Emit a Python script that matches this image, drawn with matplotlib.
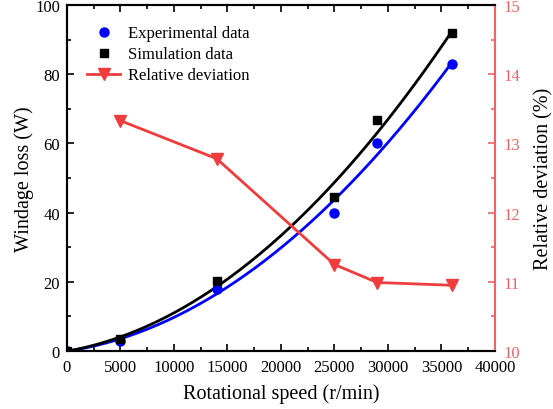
import numpy as np
import matplotlib
matplotlib.use("Agg")
import matplotlib.pyplot as plt
from matplotlib.ticker import MultipleLocator

plt.rcParams['font.family'] = ['Liberation Serif', 'DejaVu Serif']
plt.rcParams['mathtext.fontset'] = 'stix'

speed = [0, 5000, 14000, 25000, 29000, 36000]
experimental = [0, 3.0, 18.0, 40.0, 60.0, 83.0]
simulation = [0, 3.5, 20.3, 44.5, 66.7, 92.0]
dev_speed = [5000, 14000, 25000, 29000, 36000]
deviation = [13.33, 12.78, 11.25, 10.99, 10.95]

red = '#f03c3c'
axis_red = '#ec6464'

fig = plt.figure(figsize=(5.53, 4.10), dpi=100)
ax = fig.add_axes([0.121, 0.1415, 0.774, 0.8435])
ax2 = ax.twinx()

# quadratic trend curves through the measured points
xs = np.linspace(0, 36000, 200)
pe = np.polyfit(speed, experimental, 2)
ps = np.polyfit(speed, simulation, 2)
ax.plot(xs, np.polyval(pe, xs), color='#0000ff', lw=2, zorder=2)
ax.plot(xs, np.polyval(ps, xs), color='black', lw=2, zorder=2)

h_exp, = ax.plot(speed, experimental, 'o', color='#0000ff', ms=6.5,
                 ls='none', label='Experimental data', zorder=3)
h_sim, = ax.plot(speed, simulation, 's', color='black', ms=5.5,
                 ls='none', label='Simulation data', zorder=3)
h_dev, = ax2.plot(dev_speed, deviation, 'v-', color=red, lw=2, ms=8,
                  label='Relative deviation')

ax.set_xlim(0, 40000)
ax.set_ylim(0, 100)
ax2.set_ylim(10, 15)

ax.xaxis.set_major_locator(MultipleLocator(5000))
ax.xaxis.set_minor_locator(MultipleLocator(2500))
ax.yaxis.set_major_locator(MultipleLocator(20))
ax.yaxis.set_minor_locator(MultipleLocator(10))
ax2.yaxis.set_major_locator(MultipleLocator(1))
ax2.yaxis.set_minor_locator(MultipleLocator(0.5))

ax.tick_params(axis='x', which='both', direction='in', top=True,
               labelsize=12, pad=6)
ax.tick_params(axis='y', which='both', direction='in', labelsize=12, pad=5)
ax.tick_params(which='major', length=5, width=1.2)
ax.tick_params(which='minor', length=3, width=1.2)
ax2.tick_params(axis='y', which='both', direction='in', colors=axis_red,
                labelsize=12, width=1.2, pad=6)
ax2.tick_params(which='major', length=5)
ax2.tick_params(which='minor', length=3)

for s in ['left', 'bottom', 'top']:
    ax.spines[s].set_linewidth(1.5)
    ax2.spines[s].set_linewidth(1.5)
ax2.spines['right'].set_color(axis_red)
ax2.spines['right'].set_linewidth(1.5)
ax.spines['right'].set_visible(False)

ax.set_xlabel('Rotational speed (r/min)', fontsize=14.5, labelpad=6)
ax.set_ylabel('Windage loss (W)', fontsize=14.5, labelpad=1)
ax2.set_ylabel('Relative deviation (%)', fontsize=14.5, labelpad=10)

ax.legend(handles=[h_exp, h_sim, h_dev], loc='upper left',
          bbox_to_anchor=(0.012, 0.985), frameon=False, fontsize=12,
          handlelength=2.0, labelspacing=0.3, handletextpad=0.45)

fig.savefig('out.png', dpi=100)
